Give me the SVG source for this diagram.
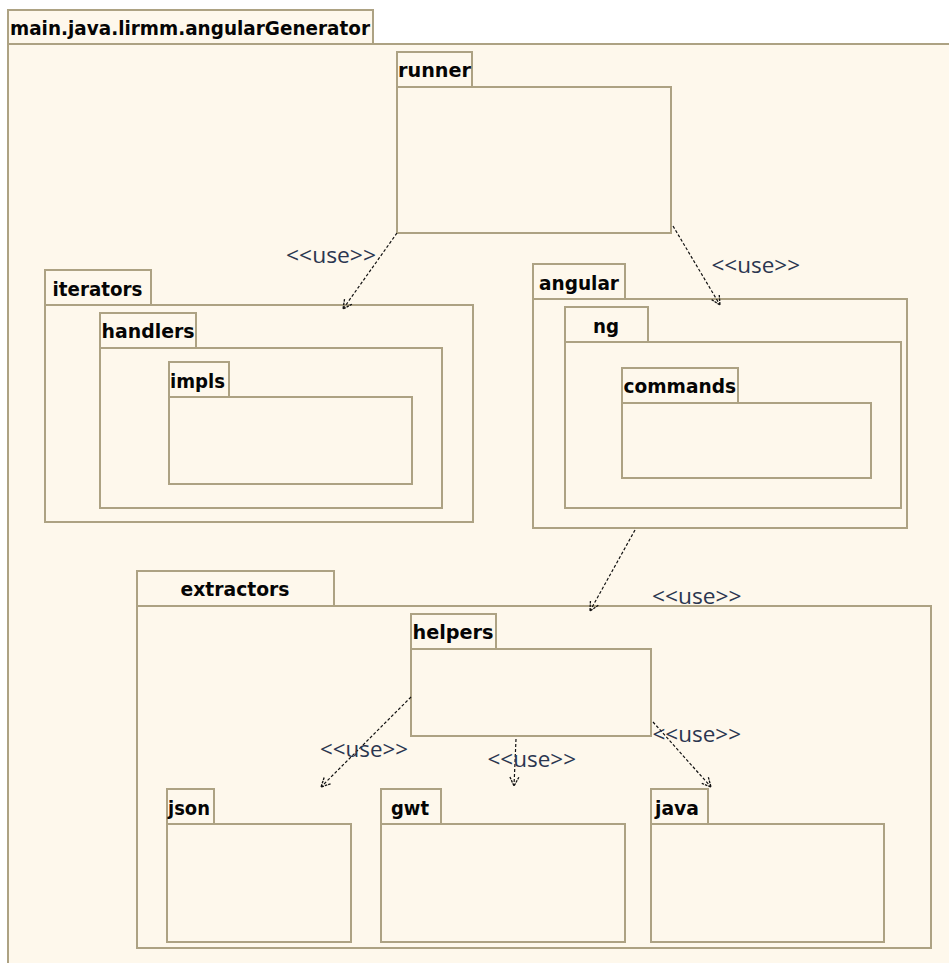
<svg xmlns="http://www.w3.org/2000/svg" width="949" height="963" viewBox="0 0 949 963">
  <defs>
    <style>
      .pkg rect { fill: #fef8ec; stroke: #ada283; stroke-width: 2; }
      .lbl { font-family: "DejaVu Sans", "Liberation Sans", sans-serif; font-weight: bold; font-size: 20px; fill: #050505; }
      .use { font-family: "Open Sans", "DejaVu Sans", sans-serif; font-size: 22px; fill: #2b3650; }
      .dep { fill: none; stroke: #111111; stroke-width: 1.2; stroke-dasharray: 3 2; }
    </style>
    <marker id="open-arrow" viewBox="0 0 12 12" refX="11" refY="6" markerWidth="12" markerHeight="12" markerUnits="userSpaceOnUse" orient="auto">
      <path d="M2,1.5 L11,6 L2,10.5" fill="none" stroke="#111111" stroke-width="1.3" stroke-dasharray="2.5 1"/>
    </marker>
  </defs>

  <rect x="0" y="0" width="949" height="963" fill="#ffffff"/>

  <!-- outer package -->
  <g id="pkg-main" class="pkg">
    <rect x="8" y="10" width="365" height="34"/>
    <rect x="8" y="44" width="960" height="940"/>
    <text class="lbl" x="10" y="35" textLength="360" lengthAdjust="spacingAndGlyphs">main.java.lirmm.angularGenerator</text>
  </g>

  <g id="pkg-runner" class="pkg">
    <rect x="397" y="52" width="75" height="35"/>
    <rect x="397" y="87" width="274" height="146"/>
    <text class="lbl" x="398" y="76.5" textLength="73" lengthAdjust="spacingAndGlyphs">runner</text>
  </g>

  <g id="pkg-iterators" class="pkg">
    <rect x="45" y="270" width="106" height="35"/>
    <rect x="45" y="305" width="428" height="217"/>
    <text class="lbl" x="52.5" y="295.5" textLength="90" lengthAdjust="spacingAndGlyphs">iterators</text>
  </g>

  <g id="pkg-handlers" class="pkg">
    <rect x="100" y="313" width="96" height="35"/>
    <rect x="100" y="348" width="342" height="160"/>
    <text class="lbl" x="101.5" y="338" textLength="93" lengthAdjust="spacingAndGlyphs">handlers</text>
  </g>

  <g id="pkg-impls" class="pkg">
    <rect x="169" y="362" width="60" height="35"/>
    <rect x="169" y="397" width="243" height="87"/>
    <text class="lbl" x="170" y="387.5" textLength="55" lengthAdjust="spacingAndGlyphs">impls</text>
  </g>

  <g id="pkg-angular" class="pkg">
    <rect x="533" y="264" width="92" height="35"/>
    <rect x="533" y="299" width="374" height="229"/>
    <text class="lbl" x="539" y="290" textLength="80" lengthAdjust="spacingAndGlyphs">angular</text>
  </g>

  <g id="pkg-ng" class="pkg">
    <rect x="565" y="307" width="83" height="35"/>
    <rect x="565" y="342" width="336" height="166"/>
    <text class="lbl" x="593" y="332.5" textLength="26" lengthAdjust="spacingAndGlyphs">ng</text>
  </g>

  <g id="pkg-commands" class="pkg">
    <rect x="622" y="368" width="116" height="35"/>
    <rect x="622" y="403" width="249" height="75"/>
    <text class="lbl" x="623.5" y="392.5" textLength="112.5" lengthAdjust="spacingAndGlyphs">commands</text>
  </g>

  <g id="pkg-extractors" class="pkg">
    <rect x="137" y="571" width="197" height="35"/>
    <rect x="137" y="606" width="794" height="342"/>
    <text class="lbl" x="180.5" y="596" textLength="109" lengthAdjust="spacingAndGlyphs">extractors</text>
  </g>

  <g id="pkg-helpers" class="pkg">
    <rect x="411" y="614" width="85" height="35"/>
    <rect x="411" y="649" width="240" height="87"/>
    <text class="lbl" x="412.5" y="638.5" textLength="81" lengthAdjust="spacingAndGlyphs">helpers</text>
  </g>

  <g id="pkg-json" class="pkg">
    <rect x="167" y="789" width="47" height="35"/>
    <rect x="167" y="824" width="184" height="118"/>
    <text class="lbl" x="168" y="815" textLength="42" lengthAdjust="spacingAndGlyphs">json</text>
  </g>

  <g id="pkg-gwt" class="pkg">
    <rect x="381" y="789" width="60" height="35"/>
    <rect x="381" y="824" width="244" height="118"/>
    <text class="lbl" x="391" y="815" textLength="38" lengthAdjust="spacingAndGlyphs">gwt</text>
  </g>

  <g id="pkg-java" class="pkg">
    <rect x="651" y="789" width="57" height="35"/>
    <rect x="651" y="824" width="233" height="118"/>
    <text class="lbl" x="655" y="815" textLength="44" lengthAdjust="spacingAndGlyphs">java</text>
  </g>

  <!-- dependencies -->
  <g id="connectors">
    <line class="dep" x1="397" y1="233" x2="343" y2="309" marker-end="url(#open-arrow)"/>
    <line class="dep" x1="673" y1="226" x2="720" y2="305" marker-end="url(#open-arrow)"/>
    <line class="dep" x1="635" y1="530" x2="590" y2="611" marker-end="url(#open-arrow)"/>
    <line class="dep" x1="411" y1="697" x2="321" y2="787" marker-end="url(#open-arrow)"/>
    <line class="dep" x1="516" y1="739" x2="514" y2="786" marker-end="url(#open-arrow)"/>
    <line class="dep" x1="653" y1="722" x2="711" y2="787" marker-end="url(#open-arrow)"/>

    <text class="use" x="286" y="263" textLength="90" lengthAdjust="spacingAndGlyphs">&lt;&lt;use&gt;&gt;</text>
    <text class="use" x="711.5" y="273" textLength="88.5" lengthAdjust="spacingAndGlyphs">&lt;&lt;use&gt;&gt;</text>
    <text class="use" x="652" y="604" textLength="89.5" lengthAdjust="spacingAndGlyphs">&lt;&lt;use&gt;&gt;</text>
    <text class="use" x="320" y="757" textLength="88" lengthAdjust="spacingAndGlyphs">&lt;&lt;use&gt;&gt;</text>
    <text class="use" x="487.5" y="767" textLength="88.5" lengthAdjust="spacingAndGlyphs">&lt;&lt;use&gt;&gt;</text>
    <text class="use" x="652.5" y="741.5" textLength="88.5" lengthAdjust="spacingAndGlyphs">&lt;&lt;use&gt;&gt;</text>
  </g>
</svg>
